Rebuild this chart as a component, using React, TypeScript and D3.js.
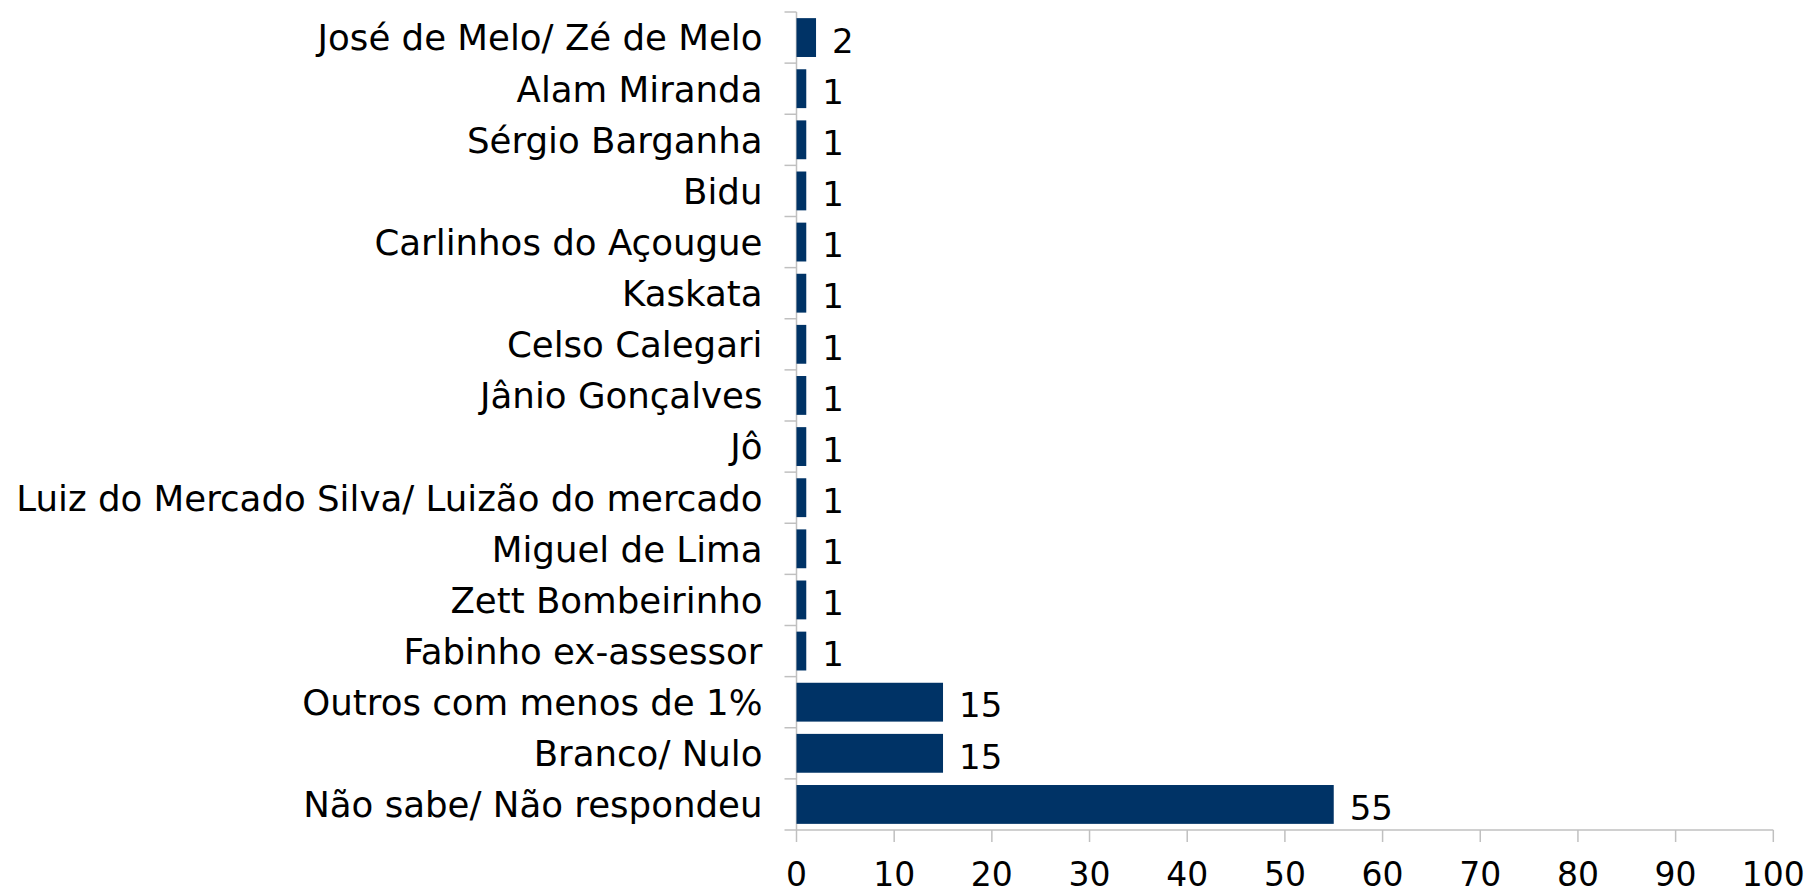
import React from "react";
import * as d3 from "d3";

const categories = [
  "José de Melo/ Zé de Melo",
  "Alam Miranda",
  "Sérgio Barganha",
  "Bidu",
  "Carlinhos do Açougue",
  "Kaskata",
  "Celso Calegari",
  "Jânio Gonçalves",
  "Jô",
  "Luiz do Mercado Silva/ Luizão do mercado",
  "Miguel de Lima",
  "Zett Bombeirinho",
  "Fabinho ex-assessor",
  "Outros com menos de 1%",
  "Branco/ Nulo",
  "Não sabe/ Não respondeu",
];
const values = [2, 1, 1, 1, 1, 1, 1, 1, 1, 1, 1, 1, 1, 15, 15, 55];
const xTicks = [0, 10, 20, 30, 40, 50, 60, 70, 80, 90, 100];

export default function App() {
  const W = 1811, H = 893;
  const left = 796.5, right = 1773.3, top = 12, bottom = 830;
  const x = d3.scaleLinear().domain([0, 100]).range([left, right]);
  const y = d3.scaleBand<string>().domain(categories).range([top, bottom]).paddingInner(0.24).paddingOuter(0.12);
  const bounds = d3.range(categories.length + 1).map((i) => top + (i * (bottom - top)) / categories.length);
  const font = "'DejaVu Sans', Verdana, sans-serif";
  const grid = "#c0c0c0";
  return (
    <svg width={W} height={H} style={{ position: "absolute", left: 0, top: 0, background: "#fff" }} fontFamily={font}>
      <line x1={left} x2={left} y1={top} y2={bottom} stroke={grid} strokeWidth={1.5} />
      <line x1={left} x2={right} y1={bottom} y2={bottom} stroke={grid} strokeWidth={1.5} />
      {bounds.map((b, i) => (
        <line key={"yt" + i} x1={left - 12} x2={left} y1={b} y2={b} stroke={grid} strokeWidth={1.5} />
      ))}
      {xTicks.map((t) => (
        <g key={"xt" + t}>
          <line x1={x(t)} x2={x(t)} y1={bottom} y2={bottom + 12} stroke={grid} strokeWidth={1.5} />
          <text x={x(t)} y={886} textAnchor="middle" fontSize={33} fill="#000">{t}</text>
        </g>
      ))}
      {categories.map((c, i) => {
        const yy = y(c)!;
        const bw = y.bandwidth();
        return (
          <g key={c}>
            <rect x={x(0)} y={yy} width={x(values[i]) - x(0)} height={bw} fill="#003366" />
            <text x={left - 34} y={yy + bw / 2} dy="0.36em" textAnchor="end" fontSize={35.6} fill="#000">{c}</text>
            <text x={x(values[i]) + 16} y={yy + bw / 2 + 3} dy="0.36em" textAnchor="start" fontSize={34} fill="#000">{values[i]}</text>
          </g>
        );
      })}
    </svg>
  );
}
